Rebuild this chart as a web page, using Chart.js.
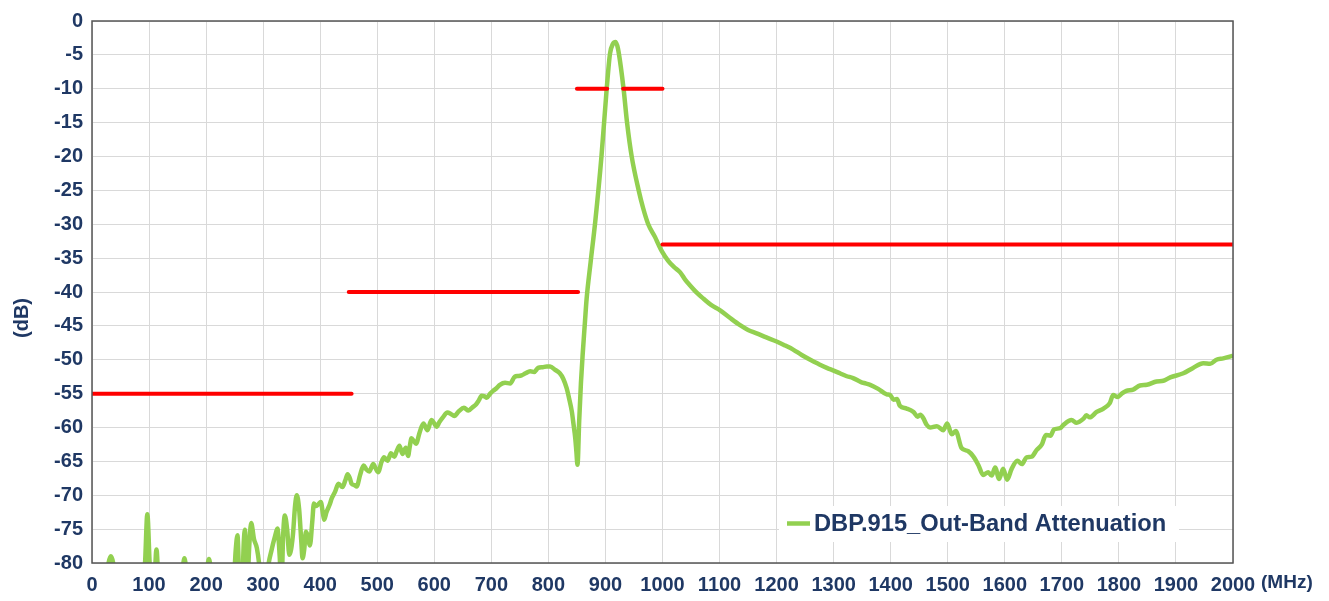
<!DOCTYPE html>
<html>
<head>
<meta charset="utf-8">
<script src="https://cdn.jsdelivr.net/npm/chart.js@4.4.0/dist/chart.umd.min.js"></script>
<style>
  html, body { margin: 0; padding: 0; background: #ffffff; }
  #wrap { width: 1329px; height: 601px; }
</style>
</head>
<body>
<div id="wrap"><canvas id="c" width="1329" height="601"></canvas></div>
<script>
// ---- Data ----
const seriesLabel = "DBP.915_Out-Band Attenuation";

const freqMHz = [
  0, 22, 28, 33, 38, 43, 88, 93, 97, 101, 105, 109, 113, 117, 120,
  155, 159, 162, 165, 169, 198, 202, 205, 208, 212,
  246, 252, 255, 259, 263, 266, 268, 272, 276, 279, 284, 289, 294, 298,
  303, 308, 315, 321, 325, 329, 332, 335, 338, 342, 346, 352, 356, 359, 363, 367, 369,
  372, 375, 378, 382, 386, 389, 393, 397, 401, 405, 407, 411, 417, 420, 426,
  432, 439, 444, 448, 452, 455, 460, 464, 470, 476, 481, 486, 493, 497, 502,
  507, 512, 518, 524, 530, 534, 539, 544, 550, 554, 557, 560, 564, 568, 574,
  581, 588, 595, 600, 604, 609, 615, 623, 629, 635, 643, 652, 660, 667, 673,
  678, 683, 688, 692, 698, 703, 709, 715, 724, 733, 741, 747, 753, 760, 768,
  775, 782, 790, 797, 803, 812, 820, 826, 832, 836, 841, 844, 847, 849, 851,
  854, 857, 860, 864, 867, 874, 882, 893, 902, 908, 913, 918, 922, 927, 932,
  938, 946, 958, 966, 975, 987, 993, 999, 1010, 1020, 1031, 1040, 1048, 1060, 1072,
  1085, 1101, 1118, 1136, 1150, 1165, 1182, 1200, 1215, 1229, 1244, 1259, 1273, 1288, 1300,
  1311, 1322, 1334, 1348, 1356, 1364, 1378, 1393, 1399, 1405, 1411, 1416, 1428, 1440, 1447,
  1452, 1457, 1463, 1469, 1481, 1492, 1499, 1507, 1514, 1524, 1536, 1545, 1554, 1562, 1571,
  1577, 1583, 1590, 1597, 1604, 1612, 1622, 1630, 1638, 1647, 1656, 1665, 1672, 1680, 1686,
  1697, 1703, 1717, 1726, 1738, 1743, 1749, 1761, 1773, 1784, 1790, 1797, 1805, 1813, 1825,
  1837, 1849, 1866, 1878, 1890, 1913, 1930, 1948, 1960, 1971, 1983, 2000
];

const attenDb = [
  -86, -86, -80.5, -79, -80.5, -86, -86, -80, -72.8, -80, -86, -84, -78, -84, -86,
  -86, -81, -79.3, -81, -86, -86, -81, -79.4, -81, -86,
  -86, -78, -75.9, -84, -84, -77, -75.1, -83, -77, -74.1, -76.5, -77.8, -81, -86,
  -86, -81, -78, -76, -74.9, -79, -84, -76, -73, -75, -78.8, -76, -71.5, -70, -72, -77, -79.3,
  -78, -75.4, -76, -77.4, -74, -71.2, -71.6, -71.3, -71.0, -72.8, -73.6, -72.5, -71.3, -70.5, -69.5,
  -68.3, -68.8, -67.8, -66.9, -67.5, -68.3, -68.5, -68.7, -67, -65.6, -66.2, -66.5, -65.4, -66, -66.6,
  -65.2, -64.4, -64.9, -63.8, -64.3, -63.5, -62.7, -63.9, -63.0, -64.2, -62.8, -61.6, -62.0, -62.4, -60.8,
  -59.4, -60.4, -58.9, -59.4, -59.9, -59.2, -58.5, -57.8, -58.0, -58.3, -57.6, -57.1, -57.5, -57.0, -56.6,
  -56.0, -55.3, -55.4, -55.6, -55.0, -54.6, -54.2, -53.7, -53.4, -53.5, -52.5, -52.4, -52.3, -52.0, -51.7,
  -51.8, -51.2, -51.1, -51.0, -51.0, -51.5, -52.0, -52.8, -54.2, -55.6, -57.6, -59.5, -61.5, -63.5, -65.5,
  -59, -53.5, -49.3, -44.5, -41.0, -35.6, -29.7, -20.0, -10.2, -4.8, -3.4, -3.1, -4.1, -6.8, -10.2,
  -15.1, -20.0, -24.9, -27.6, -30.0, -31.9, -33.0, -34.0, -35.4, -36.3, -37.1, -38.2, -39.0, -40.1, -41.0,
  -41.9, -42.7, -43.8, -44.9, -45.6, -46.1, -46.7, -47.3, -47.9, -48.5, -49.3, -50.0, -50.6, -51.2, -51.6,
  -52.0, -52.4, -52.7, -53.3, -53.5, -53.7, -54.3, -55.1, -55.2, -55.9, -55.8, -56.8, -57.2, -57.7, -58.4,
  -58.1, -58.6, -59.6, -60.0, -59.8, -60.4, -59.4, -61.0, -60.5, -63.0, -63.5, -64.3, -65.6, -67.0, -66.6,
  -67.1, -65.9, -67.6, -66.1, -67.7, -66.1, -64.9, -65.4, -64.4, -64.3, -63.3, -62.5, -61.1, -61.2, -60.3,
  -60.1, -59.6, -58.9, -59.3, -58.7, -58.2, -58.5, -57.7, -57.2, -56.4, -55.2, -55.5, -55.0, -54.6, -54.4,
  -53.8, -53.7, -53.2, -53.1, -52.6, -52.0, -51.2, -50.5, -50.6, -50.0, -49.8, -49.4
];

// Spec limit segments (red)
const specFromMHz = [0, 450, 850, 931, 1000];
const specToMHz   = [455, 852, 903, 1000, 2000];
const specDb      = [-55, -40, -10, -10, -33];

// Axis ticks
const xTickMin = 0, xTickMax = 2000, xTickStep = 100;
const yTickMin = -80, yTickMax = 0, yTickStep = 5;

// ---- Styles ----
const GREEN = '#92D050';
const RED = '#FF0000';
const TEXT = '#1F3864';
const FONT = "'Liberation Sans', Arial, sans-serif";

const datasets = [];
datasets.push({
  label: seriesLabel,
  data: freqMHz.map((f, i) => ({ x: f, y: attenDb[i] })),
  borderColor: GREEN,
  backgroundColor: GREEN,
  borderWidth: 4.5,
  pointRadius: 0,
  tension: 0.35,
  cubicInterpolationMode: 'monotone',
  clip: 0,
  order: 2
});
specDb.forEach((v, i) => {
  datasets.push({
    label: 'spec' + i,
    data: [{ x: specFromMHz[i], y: v }, { x: specToMHz[i], y: v }],
    borderColor: RED,
    backgroundColor: RED,
    borderWidth: 4,
    borderCapStyle: 'round',
    pointRadius: 0,
    clip: 0,
    order: 1
  });
});

const decorPlugin = {
  id: 'decor',
  afterDatasetsDraw(chart) {
    const ctx = chart.ctx;
    // legend box (inside plot, bottom right)
    ctx.save();
    ctx.fillStyle = '#ffffff';
    ctx.fillRect(779, 506, 400, 36);
    ctx.strokeStyle = GREEN;
    ctx.lineWidth = 4.5;
    ctx.beginPath();
    ctx.moveTo(787, 523.5);
    ctx.lineTo(810, 523.5);
    ctx.stroke();
    ctx.fillStyle = TEXT;
    ctx.font = "bold 23.7px " + FONT;
    ctx.textBaseline = 'middle';
    ctx.textAlign = 'left';
    ctx.fillText(chart.data.datasets[0].label, 814, 524);
    ctx.restore();
  },
  afterDraw(chart) {
    const ctx = chart.ctx;
    const a = chart.chartArea;
    ctx.save();
    // frame
    ctx.strokeStyle = '#555555';
    ctx.lineWidth = 1.5;
    ctx.strokeRect(a.left, a.top, a.right - a.left, a.bottom - a.top);
    // axis titles
    ctx.fillStyle = TEXT;
    ctx.font = "bold 19px " + FONT;
    ctx.textBaseline = 'middle';
    ctx.textAlign = 'left';
    ctx.fillText('(MHz)', 1261, 583);
    ctx.translate(22, 318);
    ctx.rotate(-Math.PI / 2);
    ctx.textAlign = 'center';
    ctx.font = "bold 20px " + FONT;
    ctx.fillText('(dB)', 0, 0);
    ctx.restore();
  }
};

new Chart(document.getElementById('c'), {
  type: 'line',
  data: { datasets },
  options: {
    responsive: false,
    animation: false,
    devicePixelRatio: 1,
    layout: { padding: { left: 0, top: 17, right: 96, bottom: 0 } },
    plugins: {
      legend: { display: false },
      tooltip: { enabled: false }
    },
    scales: {
      x: {
        type: 'linear',
        min: xTickMin, max: xTickMax,
        afterFit(scale) { scale.height = 38; },
        ticks: {
          stepSize: xTickStep,
          color: TEXT,
          font: { family: FONT, size: 20, weight: 'bold' },
          padding: 10,
          maxRotation: 0,
          autoSkip: false,
          callback: (v) => String(v)
        },
        grid: { color: '#d9d9d9', lineWidth: 1, drawTicks: false },
        border: { display: false }
      },
      y: {
        type: 'linear',
        min: yTickMin, max: yTickMax,
        afterFit(scale) { scale.width = 92; },
        ticks: {
          stepSize: yTickStep,
          color: TEXT,
          font: { family: FONT, size: 20, weight: 'bold' },
          padding: 9,
          autoSkip: false,
          callback: (v) => String(v)
        },
        grid: { color: '#d9d9d9', lineWidth: 1, drawTicks: false },
        border: { display: false }
      }
    }
  },
  plugins: [decorPlugin]
});
</script>
</body>
</html>
